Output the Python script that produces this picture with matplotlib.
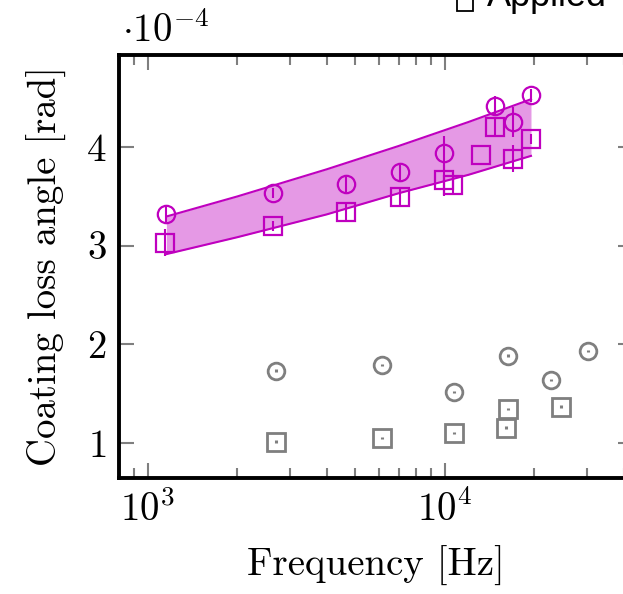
import matplotlib
matplotlib.use("Agg")
import matplotlib.pyplot as plt
from matplotlib.lines import Line2D

plt.rcParams['font.family'] = 'serif'
plt.rcParams['font.serif'] = ['cmr10']
plt.rcParams['mathtext.fontset'] = 'cm'
plt.rcParams['axes.formatter.use_mathtext'] = True
plt.rcParams['axes.unicode_minus'] = False

# loss angle values in units of 1e-4 rad
bulk_f = [1155, 2636, 4631, 7080, 9922, 14790, 16940, 19530]
bulk_phi = [3.32, 3.53, 3.625, 3.74, 3.94, 4.415, 4.25, 4.52]
bulk_err = [0.08, 0.05, 0.08, 0.08, 0.17, 0.1, 0.15, 0.07]

appl_f = [1147, 2636, 4631, 7080, 9922, 10614, 13220, 14790, 16940, 19530]
appl_phi = [3.03, 3.20, 3.34, 3.49, 3.66, 3.61, 3.92, 4.20, 3.88, 4.08]
appl_err = [0.135, 0.05, 0.08, 0.1, 0.16, 0.1, 0.0, 0.1, 0.14, 0.05]

band_f = [1155, 2000, 4000, 7000, 12000, 19500]
band_lo = [2.913, 3.084, 3.315, 3.53, 3.716, 3.908]
band_hi = [3.294, 3.497, 3.772, 4.009, 4.251, 4.482]

ref_circ_f = [2698, 6150, 10720, 16330, 22850, 30330]
ref_circ_phi = [1.733, 1.787, 1.517, 1.885, 1.638, 1.929]
ref_sq_f = [2698, 6150, 10720, 16330, 16100, 24660]
ref_sq_phi = [1.013, 1.048, 1.104, 1.341, 1.155, 1.368]

mag = '#bf00bf'
grey = '#7f7f7f'

fig = plt.figure(figsize=(6.23, 5.94), dpi=100)
ax = fig.add_axes([119/623, 1-478/594, (633-119)/623, (478-55)/594])

ax.fill_between(band_f, band_lo, band_hi, color=mag, alpha=0.4, linewidth=0)
ax.plot(band_f, band_lo, color=mag, lw=1.5)
ax.plot(band_f, band_hi, color=mag, lw=1.5)

ax.errorbar(bulk_f, bulk_phi, yerr=bulk_err, fmt='o', ms=12.5, mfc='none',
            mec=mag, mew=1.6, ecolor=mag, elinewidth=1.5, capsize=0)
ax.errorbar(appl_f, appl_phi, yerr=appl_err, fmt='s', ms=12.5, mfc='none',
            mec=mag, mew=1.6, ecolor=mag, elinewidth=1.5, capsize=0)

ax.errorbar(ref_circ_f, ref_circ_phi, yerr=0.012, fmt='o', ms=12, mfc='none',
            mec=grey, mew=2, ecolor=grey, elinewidth=2.2, capsize=0)
ax.errorbar(ref_sq_f, ref_sq_phi, yerr=0.012, fmt='s', ms=12.5, mfc='none',
            mec=grey, mew=2, ecolor=grey, elinewidth=2.2, capsize=0)

ax.set_xscale('log')
ax.set_xlim(800, 43000)
ax.set_ylim(0.645, 4.93)
ax.set_yticks([1, 2, 3, 4])

for s in ax.spines.values():
    s.set_linewidth(2.8)
ax.tick_params(which='both', direction='in', top=True, right=True,
               color=grey, width=1.5, labelsize=28, pad=9)
ax.tick_params(which='major', length=11)
ax.tick_params(which='minor', length=7.5)
ax.tick_params(axis='y', which='minor', left=False, right=False)

ax.set_xlabel('Frequency [Hz]', fontsize=28, labelpad=12)
ax.set_ylabel('Coating loss angle [rad]', fontsize=28, labelpad=14)

fig.text(122/623, 1-42/594, r'$\cdot 10^{-4}$', fontsize=28)

# legend entry, mostly above the top edge
fig.add_artist(Line2D([465/623], [1-3/594], marker='s', ms=11, mfc='none',
                      mec='black', mew=1.3, transform=fig.transFigure))
fig.text(487/623, 1-6/594, 'Applied', fontsize=26, family='Liberation Sans')

fig.savefig('out.png', dpi=100)
